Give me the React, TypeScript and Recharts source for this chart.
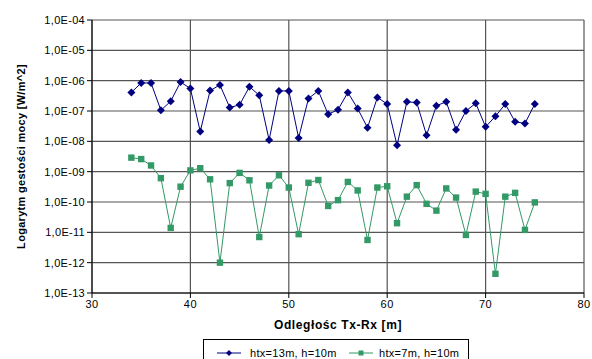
import { LineChart, Line, XAxis, YAxis, CartesianGrid } from "recharts";

const distances = [
  34, 35, 36, 37, 38, 39, 40, 41, 42, 43, 44, 45, 46, 47, 48, 49, 50, 51, 52, 53, 54,
  55, 56, 57, 58, 59, 60, 61, 62, 63, 64, 65, 66, 67, 68, 69, 70, 71, 72, 73, 74, 75,
];

const htx13 = [
  4.1e-7, 8.4e-7, 8.4e-7, 1.05e-7, 2.1e-7, 9e-7, 5.5e-7, 2.1e-8, 4.7e-7, 7.2e-7, 1.3e-7,
  1.6e-7, 6.3e-7, 3.3e-7, 1.1e-8, 4.6e-7, 4.6e-7, 1.3e-8, 2.6e-7, 4.6e-7, 7.8e-8,
  1.1e-7, 4.1e-7, 1.2e-7, 2.8e-8, 2.8e-7, 1.7e-7, 7.4e-9, 2.0e-7, 1.9e-7, 1.6e-8,
  1.5e-7, 2.0e-7, 2.4e-8, 1e-7, 1.8e-7, 3e-8, 6.7e-8, 1.7e-7, 4.4e-8, 3.9e-8, 1.7e-7,
];

const htx7 = [
  2.9e-9, 2.6e-9, 1.6e-9, 6.1e-10, 1.4e-11, 3.2e-10, 1.1e-9, 1.3e-9, 5.6e-10, 1.0e-12,
  4.2e-10, 9.1e-10, 5.2e-10, 7e-12, 3.5e-10, 7.6e-10, 3e-10, 8.7e-12, 4.3e-10, 5.3e-10,
  7.4e-11, 1.15e-10, 4.6e-10, 2.4e-10, 5.6e-12, 3e-10, 3.3e-10, 2e-11, 1.5e-10, 3.6e-10,
  8.7e-11, 5.2e-11, 2.8e-10, 1.4e-10, 8.2e-12, 2.2e-10, 1.85e-10, 4.3e-13, 1.5e-10,
  2e-10, 1.2e-11, 9.7e-11,
];

const yTicks = [1e-13, 1e-12, 1e-11, 1e-10, 1e-9, 1e-8, 1e-7, 1e-6, 1e-5, 1e-4];
const xTicks = [30, 40, 50, 60, 70, 80];

const BLUE = "#000080";
const GREEN = "#339966";

const data = distances.map((d, i) => ({ d, a: htx13[i], b: htx7[i] }));

const fmtY = (v: number) => {
  const e = Math.round(Math.log10(v));
  const s = e < 0 ? "-" : "+";
  return `1,0E${s}${String(Math.abs(e)).padStart(2, "0")}`;
};

const Diamond = (p: any) => {
  const { cx, cy } = p;
  if (cx == null || cy == null) return null;
  const r = 4;
  return (
    <polygon
      key={p.index}
      points={`${cx},${cy - r} ${cx + r},${cy} ${cx},${cy + r} ${cx - r},${cy}`}
      fill={BLUE}
    />
  );
};

const Square = (p: any) => {
  const { cx, cy } = p;
  if (cx == null || cy == null) return null;
  const r = 3.2;
  return <rect key={p.index} x={cx - r} y={cy - r} width={r * 2} height={r * 2} fill={GREEN} />;
};

const font = "Liberation Sans, Arial, sans-serif";

export default function App() {
  return (
    <div style={{ position: "absolute", left: 0, top: 0, width: 592, height: 359, background: "#fff", fontFamily: font }}>
      <LineChart width={592} height={359} data={data} margin={{ top: 20, right: 8, bottom: 0, left: 0 }}>
        <CartesianGrid stroke="#555" strokeWidth={1.2} />
        <XAxis
          dataKey="d"
          type="number"
          domain={[30, 80]}
          ticks={xTicks}
          height={66}
          stroke="#000"
          tickSize={5}
          tick={{ fill: "#000", fontSize: 11, fontFamily: font, letterSpacing: 0.5 }}
          label={{ value: "Odległośc Tx-Rx [m]", position: "insideTop", offset: 27, fill: "#000", fontSize: 12, fontWeight: "bold", fontFamily: font, letterSpacing: 0.6 }}
        />
        <YAxis
          scale="log"
          domain={[1e-13, 1e-4]}
          ticks={yTicks}
          allowDataOverflow
          width={92}
          stroke="#000"
          tickSize={5}
          tickFormatter={fmtY}
          tick={{ fill: "#000", fontSize: 11, fontFamily: font, letterSpacing: 0.3 }}
          label={{ value: "Logarytm gestości mocy [W/m^2]", angle: -90, position: "insideLeft", offset: 21, style: { textAnchor: "middle" }, fill: "#000", fontSize: 11, fontWeight: "bold", fontFamily: font, letterSpacing: 0.3 }}
        />
        <Line dataKey="a" stroke={BLUE} strokeWidth={1} dot={Diamond} isAnimationActive={false} />
        <Line dataKey="b" stroke={GREEN} strokeWidth={1} dot={Square} isAnimationActive={false} />
      </LineChart>
      <div
        style={{
          position: "absolute",
          left: 203,
          top: 339,
          width: 266,
          height: 24,
          border: "1px solid #000",
          boxSizing: "border-box",
          background: "#fff",
          fontSize: 11,
          color: "#000",
        }}
      >
        <svg width={266} height={24} style={{ position: "absolute", left: 0, top: 0 }}>
          <line x1={13} x2={37} y1={13} y2={13} stroke={BLUE} />
          <polygon points="25,10 28,13 25,16 22,13" fill={BLUE} />
          <text x={46} y={17} fontSize={11} fontFamily={font} letterSpacing={0.3}>htx=13m, h=10m</text>
          <line x1={145} x2={169} y1={13} y2={13} stroke={GREEN} />
          <rect x={154.5} y={10.5} width={5} height={5} fill={GREEN} />
          <text x={175} y={17} fontSize={11} fontFamily={font} letterSpacing={0.3}>htx=7m, h=10m</text>
        </svg>
      </div>
    </div>
  );
}
